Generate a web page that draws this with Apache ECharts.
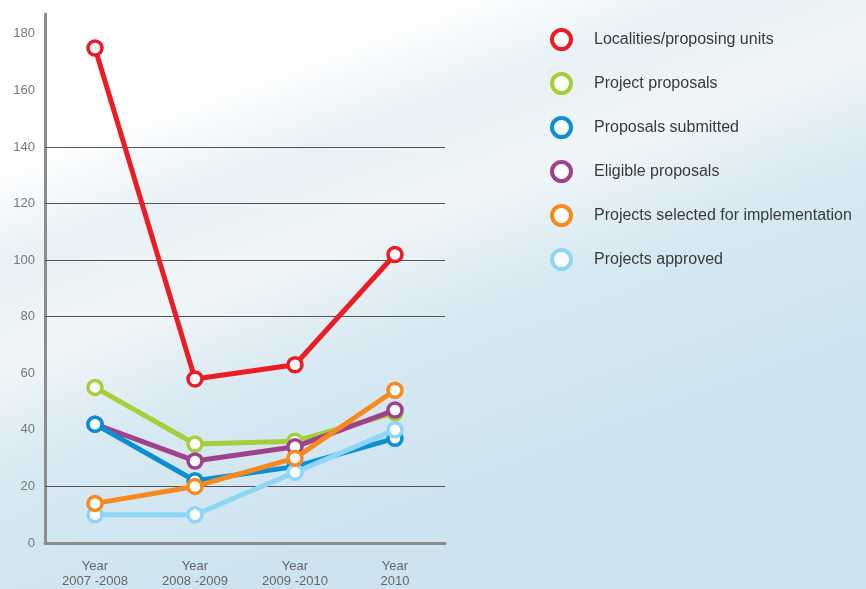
<!DOCTYPE html>
<html>
<head>
<meta charset="utf-8">
<script src="https://cdn.jsdelivr.net/npm/echarts@6/dist/echarts.min.js"></script>
<style>html,body{margin:0;padding:0;}#c{width:866px;height:589px;}</style>
</head>
<body>
<div id="c"></div>
<script>
const categories = ['Year\n2007 -2008', 'Year\n2008 -2009', 'Year\n2009 -2010', 'Year\n2010'];
const seriesNames = ['Localities/proposing units', 'Project proposals', 'Proposals submitted', 'Eligible proposals', 'Projects selected for implementation', 'Projects approved'];
const localities = [175, 58, 63, 102];
const projectProposals = [55, 35, 36, 46];
const proposalsSubmitted = [42, 22, 27, 37];
const eligibleProposals = [42, 29, 34, 47];
const projectsSelected = [14, 20, 30, 54];
const projectsApproved = [10, 10, 25, 40];
const gridValues = [20, 80, 100, 120, 140];
const colors = ['#ed1c24', '#a6ce39', '#0a8fd4', '#a0418b', '#f7891f', '#8dd6f6'];
const zOrder = [8, 2, 4, 3, 6, 5];
const allData = [localities, projectProposals, proposalsSubmitted, eligibleProposals, projectsSelected, projectsApproved];

const chart = echarts.init(document.getElementById('c'));
const series = allData.map((d, i) => ({
  name: seriesNames[i],
  type: 'line',
  data: d,
  z: zOrder[i],
  symbol: 'circle',
  symbolSize: 14,
  color: colors[i],
  lineStyle: { width: 5, color: colors[i] },
  itemStyle: { color: '#ffffff', borderColor: colors[i], borderWidth: 3.5 },
  emphasis: { disabled: true }
}));
series.push({
  name: 'grid',
  type: 'line',
  data: [],
  z: 1,
  silent: true,
  markLine: {
    silent: true,
    symbol: 'none',
    label: { show: false },
    lineStyle: { color: '#555', width: 1, type: 'solid' },
    data: gridValues.map(v => ({ yAxis: v }))
  }
});

chart.setOption({
  animation: false,
  backgroundColor: {
    type: 'linear', x: 0, y: 0, x2: 0.25, y2: 1,
    colorStops: [
      { offset: 0, color: '#ffffff' },
      { offset: 0.25, color: '#ffffff' },
      { offset: 0.4, color: '#e8f1f6' },
      { offset: 0.55, color: '#f1f6f8' },
      { offset: 0.72, color: '#d7e9f2' },
      { offset: 1, color: '#cde4f0' }
    ]
  },
  grid: { left: 45, right: 421, top: 14, bottom: 46, containLabel: false },
  legend: {
    orient: 'vertical',
    left: 545,
    top: 23,
    itemWidth: 19,
    itemHeight: 19,
    itemGap: 21,
    icon: 'circle',
    data: seriesNames,
    selectedMode: false,
    itemStyle: { color: '#ffffff', borderWidth: 4 },
    textStyle: { fontFamily: 'Liberation Sans, Arial, sans-serif', fontSize: 16, color: '#3a3a3a', padding: [0, 0, 0, 18] }
  },
  xAxis: {
    type: 'category',
    data: categories,
    boundaryGap: true,
    axisLine: { lineStyle: { color: '#8c8c8c', width: 3 } },
    axisTick: { show: false },
    axisLabel: { color: '#666', fontSize: 13, lineHeight: 15, margin: 16, fontFamily: 'Liberation Sans, Arial, sans-serif' },
    splitLine: { show: false }
  },
  yAxis: {
    type: 'value',
    min: 0,
    max: 187,
    interval: 20,
    axisLine: { show: true, lineStyle: { color: '#8c8c8c', width: 3 } },
    axisTick: { show: false },
    splitLine: { show: false },
    axisLabel: {
      color: '#777', fontSize: 13, margin: 10, fontFamily: 'Liberation Sans, Arial, sans-serif',
      formatter: v => (v % 20 === 0 ? String(v) : '')
    }
  },
  series: series
});
</script>
</body>
</html>
